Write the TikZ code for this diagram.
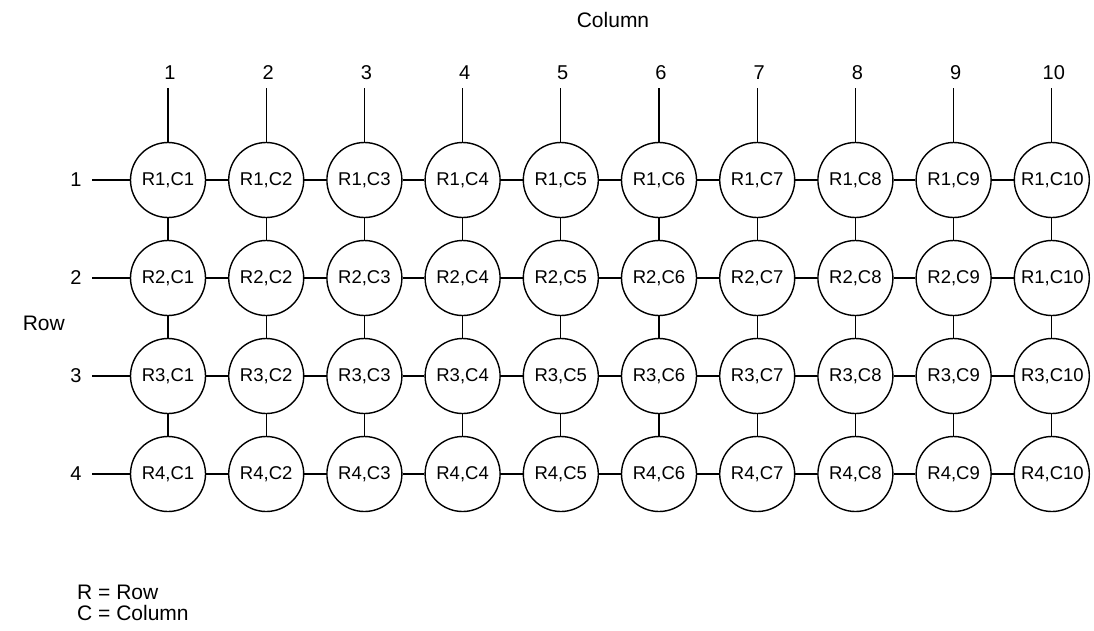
\documentclass[tikz,border=0pt]{standalone}
\usepackage{fontspec}
\setmainfont{Liberation Sans}
\begin{document}
\begin{tikzpicture}[x=1pt,y=-1pt,
  cell/.style={draw,circle,line width=1.4pt,minimum size=75pt,inner sep=0pt},
  celltext/.style={font=\fontsize{18.5}{19}\selectfont,inner sep=0pt},
  lbl/.style={font=\fontsize{20}{22}\selectfont,inner sep=0pt},
  big/.style={font=\fontsize{21}{23}\selectfont,inner sep=0pt},
  wire/.style={line width=1.3pt}]
\useasboundingbox (0,0) rectangle (1094,630);
% title labels
\node[big] (coltitle) at (613,20) {Column};
\node[big,anchor=east] (rowtitle) at (65,323) {Row};
% grid
\foreach \i in {1,...,4}{
  \pgfmathsetmacro{\yy}{180+(\i-1)*98}
  \node[lbl] (rl-\i) at (76,\yy) {\i};
  \coordinate (rt-\i) at (92,\yy);
  \foreach \j in {1,...,10}{
    \pgfmathsetmacro{\xx}{168+(\j-1)*98.2}
    \node[cell] (n-\i-\j) at (\xx,\yy) {};
  }
}
% texts in cells
\foreach \i in {1,...,4}{
  \foreach \j in {1,...,9}{
    \node[celltext] (t-\i-\j) at (n-\i-\j) {R\i,C\j};
  }
}
\node[celltext,anchor=west] (t-1-10) at ([xshift=-31pt]n-1-10.center) {R1,C10};
\node[celltext,anchor=west] (t-2-10) at ([xshift=-31pt]n-2-10.center) {R1,C10};
\node[celltext,anchor=west] (t-3-10) at ([xshift=-31pt]n-3-10.center) {R3,C10};
\node[celltext,anchor=west] (t-4-10) at ([xshift=-31pt]n-4-10.center) {R4,C10};
% column labels and leads
\foreach \j in {1,...,10}{
  \pgfmathsetmacro{\xx}{168+(\j-1)*98.2}
  \node[lbl] (cl-\j) at (\xx+2,73) {\j};
  \coordinate (ct-\j) at (\xx,88);
  \draw[wire] (ct-\j) -- (n-1-\j);
}
% row leads
\foreach \i in {1,...,4}{
  \draw[wire] (rt-\i) -- (n-\i-1);
}
% horizontal links
\foreach \i in {1,...,4}{
  \foreach \j [evaluate=\j as \k using int(\j+1)] in {1,...,9}{
    \draw[wire] (n-\i-\j) -- (n-\i-\k);
  }
}
% vertical links
\foreach \i [evaluate=\i as \k using int(\i+1)] in {1,...,3}{
  \foreach \j in {1,...,10}{
    \draw[wire] (n-\i-\j) -- (n-\k-\j);
  }
}
% legend
\node[big,anchor=west] (leg1) at (77,592) {R = Row};
\node[big,anchor=west] (leg2) at (77,613) {C = Column};
\end{tikzpicture}
\end{document}
